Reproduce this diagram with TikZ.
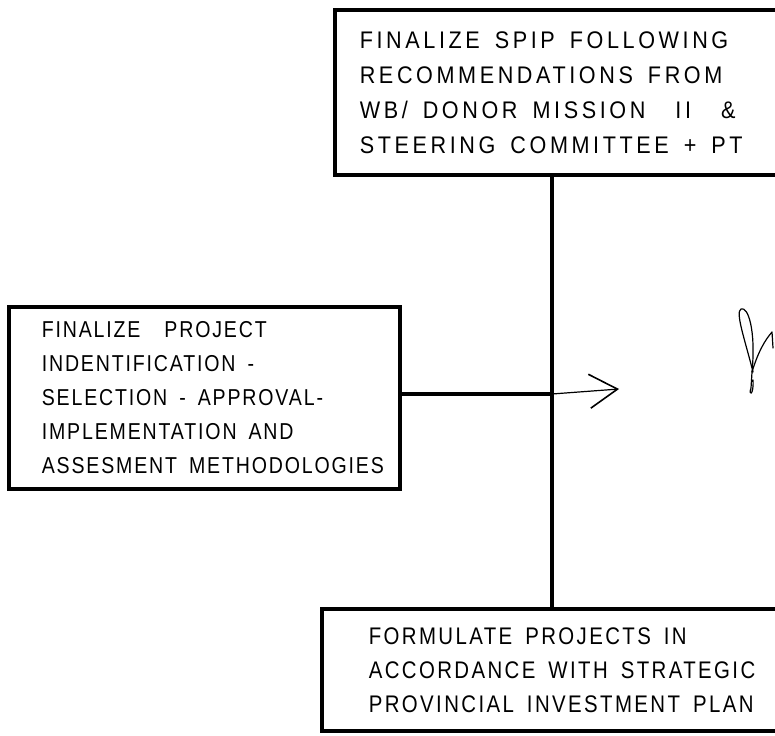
\documentclass[tikz,border=0pt]{standalone}
\usepackage{fontspec}
\setmainfont{Liberation Sans}[FakeStretch=0.9, LetterSpace=15]
\newfontfamily\tightfont{Liberation Sans}[FakeStretch=0.85, LetterSpace=8]
\newfontfamily\planfont{Liberation Sans}[FakeStretch=0.85, LetterSpace=10]
\usepackage{tikz}
\usetikzlibrary{arrows.meta}
\usetikzlibrary{positioning}

\begin{document}
\begin{tikzpicture}[x=1pt, y=-1pt,
    stepbox/.style={draw, line width=3.6pt, rectangle, align=left, anchor=north west,
        font=\fontsize{24}{35}\selectfont, inner ysep=0pt,
        execute at begin node={\hyphenpenalty=10000\spaceskip=15pt plus 3pt minus 3pt\relax}},
    link/.style={line width=3.6pt},
    hand/.style={line width=1.2pt, line cap=round, line join=round}]
    \useasboundingbox (0, 0) rectangle (775, 735);
    \clip (0, 0) rectangle (775, 735);
    \fill[white] (0, 0) rectangle (775, 735);
    \node[stepbox, inner xsep=25pt, text width=430pt, minimum height=165pt] (spip) at (333, 8)
        {FINALIZE SPIP FOLLOWING\\RECOMMENDATIONS FROM\\WB/ DONOR MISSION \ II \ \&\\STEERING COMMITTEE + PT};
    \node[stepbox, inner xsep=33pt, text width=325pt, minimum height=182pt,
        font=\tightfont\fontsize{23}{34}\selectfont,
        execute at begin node={\hyphenpenalty=10000\spaceskip=12pt plus 3pt minus 3pt\relax}] (method) at (7, 305)
        {FINALIZE \ PROJECT\\INDENTIFICATION -\\SELECTION - APPROVAL-\\IMPLEMENTATION AND\\\mbox{ASSESMENT METHODOLOGIES}};
    \node[stepbox, inner xsep=47pt, text width=430pt, minimum height=122pt, inner ysep=2pt,
        font=\planfont\fontsize{24}{34}\selectfont,
        execute at begin node={\hyphenpenalty=10000\spaceskip=13pt plus 3pt minus 3pt\relax}] (plan) at (320, 607)
        {FORMULATE PROJECTS IN\\ACCORDANCE WITH STRATEGIC\\PROVINCIAL INVESTMENT PLAN};
    \coordinate (jn) at (552, 394);
    \coordinate (tip) at (619, 389);
    \draw[link] (jn |- spip.south) -- (jn |- plan.north);
    \draw[link] (method.east |- jn) -- (jn);
    \draw[hand, -{Straight Barb[length=28pt, width=34pt, line width=1.6pt]}] (jn) -- (tip);
    % scribble at the right
    \draw[hand] (753, 372) .. controls (745, 340) and (735, 312) .. (741, 309)
        .. controls (748, 306) and (756, 330) .. (752, 372) -- (751, 388)
        .. controls (748, 396) and (754, 396) .. (753, 380);
    \draw[hand] (752, 372) .. controls (758, 352) and (765, 340) .. (772, 332) -- (773, 348);
\end{tikzpicture}
\end{document}
